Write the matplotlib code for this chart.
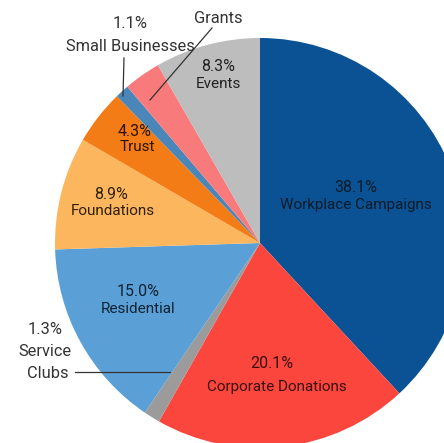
import matplotlib
matplotlib.use('Agg')
import matplotlib.pyplot as plt

# slices, clockwise from 12 o'clock
names = ['Workplace Campaigns', 'Corporate Donations', 'Service Clubs', 'Residential',
         'Foundations', 'Trust', 'Small Businesses', 'Grants', 'Events']
shares = [38.1, 20.1, 1.3, 15.0, 8.9, 4.3, 1.1, 2.9, 8.3]
colors = ['#0a5294', '#fb463e', '#9b9b9b', '#5aa0d6', '#fcb75e',
          '#f47c16', '#4a86b8', '#f87a7a', '#bdbdbd']

plt.rcParams['font.family'] = ['Roboto', 'DejaVu Sans']

W, H = 444, 443
fig = plt.figure(figsize=(W / 100, H / 100), dpi=100)
ax = fig.add_axes([0, 0, 1, 1])

cx, cy, r = 260, 243, 205
# y axis is flipped, so counterclock=True with startangle=-90 goes clockwise from the top on screen
ax.pie(shares, colors=colors, startangle=-90, counterclock=True,
       center=(cx, cy), radius=r, wedgeprops=dict(linewidth=0), frame=True)
ax.set_xlim(0, W)
ax.set_ylim(H, 0)
ax.set_aspect('equal')
ax.axis('off')

outer = '#333333'

def lab(x, y, s, size=11, c='#222222'):
    ax.text(x, y, s, fontsize=size, color=c, ha='center', va='center')

# labels inside the slices
lab(356, 187, '38.1%', 11.5, '#0d1b2a')
lab(356, 205, 'Workplace Campaigns', 11, '#0d1b2a')
lab(272, 364, '20.1%', 11.5, '#3a0f0c')
lab(277, 387, 'Corporate Donations', 11, '#3a0f0c')
lab(138, 291, '15.0%', 11.5, '#0f2233')
lab(138, 309, 'Residential', 11, '#0f2233')
lab(111, 194, '8.9%', 11.5, '#2e1f08')
lab(113, 211, 'Foundations', 11, '#2e1f08')
lab(135, 131, '4.3%', 11.5, '#2a1403')
lab(137, 147, 'Trust', 11, '#2a1403')
lab(218, 66, '8.3%', 11.5, '#222222')
lab(218, 84, 'Events', 11, '#222222')

# outside labels with leader lines
lab(130, 23, '1.1%', 11.8, outer)
lab(130, 46, 'Small Businesses', 11.8, outer)
ax.plot([124, 123], [58, 96], color='#333333', lw=0.9)

lab(218, 18, 'Grants', 11.8, outer)
ax.plot([212, 150], [28, 100], color='#333333', lw=0.9)

lab(45, 330, '1.3%', 11.8, outer)
lab(45, 352, 'Service', 11.8, outer)
lab(48, 374, 'Clubs', 11.8, outer)
ax.plot([75, 170], [372, 372], color='#333333', lw=0.9)

fig.savefig('out.png', dpi=100)
